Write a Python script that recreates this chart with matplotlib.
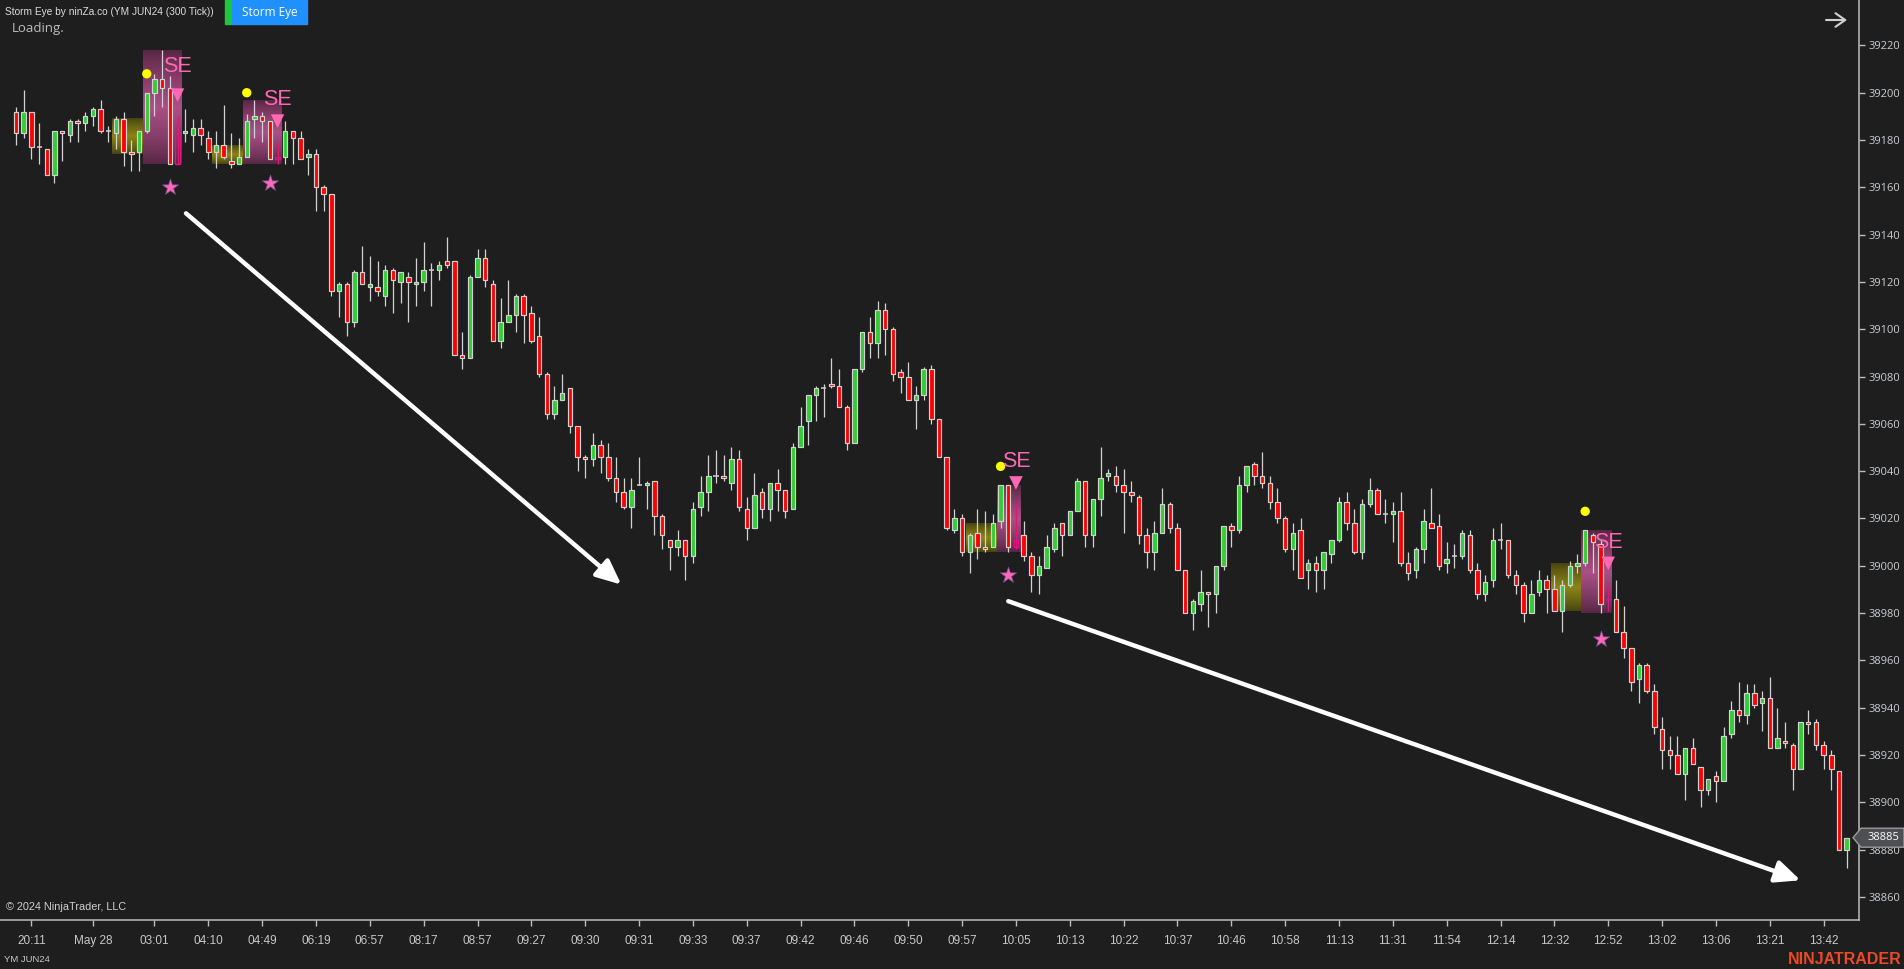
import numpy as np
import matplotlib
matplotlib.use("Agg")
import matplotlib.pyplot as plt
from matplotlib import font_manager
from matplotlib.patches import Polygon, Rectangle

# YM JUN24, 300 tick bars
OPEN = [
    39192, 39183, 39192, 39177, 39176, 39165, 39184, 39182, 39188, 39187,
    39190, 39193, 39184, 39183, 39189, 39175, 39175, 39184, 39200, 39206,
    39202, 39170, 39183, 39182, 39185, 39181, 39175, 39178, 39171, 39170,
    39173, 39189, 39190, 39188, 39172, 39173, 39184, 39181, 39173, 39174,
    39160, 39157, 39116, 39119, 39103, 39124, 39118, 39118, 39114, 39125,
    39120, 39122, 39119, 39120, 39125, 39125, 39129, 39129, 39089, 39088,
    39122, 39130, 39119, 39095, 39103, 39106, 39114, 39107, 39097, 39081,
    39064, 39070, 39075, 39059, 39046, 39045, 39051, 39046, 39037, 39031,
    39025, 39034, 39034, 39036, 39021, 39011, 39008, 39011, 39004, 39025,
    39031, 39038, 39038, 39035, 39045, 39024, 39016, 39031, 39024, 39035,
    39032, 39024, 39050, 39061, 39072, 39075, 39077, 39076, 39067, 39052,
    39083, 39099, 39094, 39108, 39100, 39082, 39080, 39070, 39072, 39083,
    39062, 39046, 39015, 39020, 39006, 39014, 39008, 39008, 39019, 39034,
    39008, 39013, 39004, 38996, 38999, 39007, 39018, 39013, 39023, 39036,
    39013, 39028, 39038, 39038, 39034, 39031, 39029, 39013, 39006, 39014,
    39026, 39016, 38998, 38980, 38984, 38989, 38988, 39000, 39017, 39015,
    39034, 39043, 39038, 39035, 39027, 39020, 39007, 39015, 38998, 39001,
    38998, 39005, 39011, 39027, 39018, 39006, 39026, 39032, 39022, 39022,
    39023, 39001, 38998, 39007, 39018, 39017, 39001, 39004, 39004, 39013,
    38998, 38988, 38994, 39011, 39011, 38996, 38992, 38980, 38989, 38994,
    38990, 38981, 38992, 39000, 39001, 39013, 39009, 38986, 38986, 38972,
    38965, 38952, 38958, 38947, 38931, 38922, 38920, 38912, 38923, 38915,
    38905, 38911, 38909, 38929, 38939, 38937, 38946, 38942, 38944, 38923,
    38926, 38924, 38914, 38934, 38934, 38924, 38920, 38913, 38880,
]
HIGH = [
    39194, 39201, 39192, 39187, 39176, 39184, 39184, 39189, 39189, 39192,
    39194, 39197, 39186, 39190, 39192, 39180, 39184, 39200, 39208, 39218,
    39207, 39190, 39193, 39189, 39189, 39184, 39184, 39195, 39183, 39181,
    39191, 39197, 39192, 39188, 39179, 39188, 39184, 39184, 39176, 39176,
    39161, 39157, 39120, 39120, 39125, 39135, 39131, 39129, 39127, 39126,
    39124, 39124, 39130, 39137, 39128, 39129, 39139, 39129, 39099, 39123,
    39134, 39134, 39121, 39113, 39121, 39115, 39115, 39110, 39105, 39082,
    39076, 39081, 39075, 39059, 39047, 39056, 39053, 39052, 39046, 39037,
    39037, 39046, 39036, 39036, 39022, 39011, 39015, 39011, 39027, 39038,
    39047, 39049, 39047, 39050, 39049, 39029, 39039, 39033, 39035, 39041,
    39032, 39052, 39067, 39072, 39076, 39077, 39088, 39083, 39068, 39083,
    39099, 39105, 39112, 39111, 39101, 39083, 39086, 39076, 39084, 39085,
    39062, 39046, 39024, 39022, 39014, 39024, 39023, 39022, 39034, 39034,
    39026, 39019, 39006, 39004, 39013, 39018, 39018, 39023, 39037, 39036,
    39028, 39050, 39041, 39042, 39041, 39036, 39030, 39016, 39019, 39033,
    39027, 39018, 38998, 38986, 38998, 38989, 39000, 39017, 39018, 39038,
    39042, 39044, 39048, 39038, 39033, 39021, 39018, 39020, 39003, 39004,
    39006, 39011, 39029, 39031, 39024, 39028, 39037, 39033, 39028, 39027,
    39031, 39006, 39008, 39024, 39033, 39022, 39010, 39009, 39015, 39015,
    39001, 38996, 39016, 39018, 39011, 38998, 38993, 38994, 38998, 38996,
    38996, 38994, 39002, 39005, 39015, 39014, 39011, 38992, 38994, 38983,
    38965, 38959, 38959, 38950, 38936, 38928, 38928, 38923, 38927, 38915,
    38910, 38913, 38932, 38943, 38951, 38950, 38950, 38947, 38953, 38940,
    38934, 38925, 38934, 38939, 38935, 38926, 38922, 38913, 38885,
]
LOW = [
    39178, 39181, 39172, 39170, 39165, 39162, 39171, 39179, 39179, 39184,
    39186, 39183, 39179, 39176, 39169, 39167, 39167, 39183, 39190, 39194,
    39170, 39170, 39179, 39175, 39178, 39172, 39168, 39172, 39168, 39170,
    39173, 39181, 39179, 39172, 39170, 39170, 39170, 39172, 39165, 39150,
    39150, 39114, 39105, 39097, 39101, 39119, 39112, 39114, 39110, 39107,
    39111, 39103, 39110, 39116, 39110, 39121, 39126, 39089, 39083, 39088,
    39122, 39118, 39095, 39092, 39103, 39099, 39094, 39094, 39080, 39062,
    39062, 39070, 39056, 39040, 39037, 39042, 39039, 39036, 39027, 39024,
    39016, 39034, 39024, 39013, 39007, 38998, 39004, 38994, 39001, 39021,
    39023, 39035, 39036, 39032, 39023, 39011, 39016, 39020, 39019, 39023,
    39020, 39024, 39050, 39051, 39061, 39063, 39075, 39067, 39049, 39052,
    39082, 39088, 39088, 39089, 39078, 39073, 39070, 39058, 39070, 39060,
    39046, 39015, 39014, 39004, 38997, 39003, 39006, 39008, 39016, 39006,
    39007, 39002, 38989, 38988, 38999, 39006, 39004, 39013, 39023, 39008,
    39008, 39021, 39036, 39031, 39014, 39027, 39009, 38999, 38998, 39014,
    39014, 38998, 38980, 38973, 38981, 38974, 38980, 38998, 39008, 39014,
    39031, 39034, 39033, 39024, 39018, 39006, 38998, 38995, 38990, 38989,
    38990, 39001, 39010, 39015, 39005, 39003, 39025, 39022, 39018, 39010,
    39000, 38994, 38995, 39001, 39016, 38998, 38997, 38999, 39003, 38997,
    38986, 38985, 38991, 39007, 38995, 38988, 38976, 38980, 38987, 38980,
    38981, 38972, 38991, 38997, 39000, 38997, 38980, 38981, 38972, 38961,
    38947, 38942, 38946, 38929, 38914, 38914, 38912, 38901, 38916, 38898,
    38903, 38900, 38909, 38927, 38934, 38933, 38940, 38930, 38923, 38923,
    38923, 38905, 38914, 38929, 38922, 38914, 38905, 38880, 38872,
]
CLOSE = [
    39183, 39192, 39177, 39177, 39165, 39184, 39183, 39188, 39187, 39190,
    39193, 39184, 39184, 39189, 39175, 39174, 39184, 39200, 39206, 39202,
    39170, 39183, 39184, 39185, 39182, 39175, 39178, 39173, 39170, 39173,
    39188, 39190, 39188, 39172, 39173, 39184, 39181, 39172, 39174, 39160,
    39157, 39116, 39119, 39103, 39124, 39119, 39119, 39116, 39125, 39121,
    39124, 39120, 39120, 39125, 39125, 39127, 39127, 39089, 39088, 39122,
    39130, 39121, 39095, 39103, 39106, 39114, 39106, 39095, 39081, 39064,
    39070, 39073, 39059, 39046, 39045, 39051, 39046, 39037, 39031, 39025,
    39032, 39034, 39035, 39021, 39013, 39008, 39011, 39004, 39024, 39031,
    39038, 39038, 39037, 39045, 39025, 39016, 39030, 39024, 39035, 39032,
    39023, 39050, 39059, 39072, 39075, 39075, 39076, 39067, 39052, 39083,
    39099, 39094, 39108, 39100, 39081, 39080, 39070, 39072, 39083, 39062,
    39046, 39016, 39020, 39006, 39013, 39008, 39007, 39018, 39034, 39008,
    39011, 39004, 38996, 39000, 39008, 39016, 39013, 39023, 39036, 39013,
    39028, 39037, 39039, 39034, 39031, 39030, 39013, 39006, 39014, 39026,
    39016, 38998, 38980, 38985, 38989, 38988, 39000, 39017, 39015, 39034,
    39042, 39038, 39035, 39027, 39020, 39007, 39014, 38995, 39001, 38998,
    39006, 39011, 39027, 39018, 39006, 39026, 39032, 39022, 39022, 39023,
    39001, 38997, 39007, 39019, 39016, 39000, 39003, 39004, 39014, 38998,
    38988, 38993, 39011, 39011, 38996, 38992, 38980, 38988, 38994, 38990,
    38981, 38992, 39000, 39001, 39015, 39010, 38984, 38986, 38972, 38965,
    38951, 38958, 38947, 38932, 38922, 38920, 38912, 38923, 38916, 38905,
    38910, 38909, 38928, 38939, 38937, 38946, 38941, 38944, 38923, 38927,
    38925, 38914, 38934, 38933, 38924, 38920, 38914, 38880, 38885,
]

TIME_TICKS = [2, 10, 18, 25, 32, 39, 46, 53, 60, 67, 74, 81, 88, 95, 102, 109, 116,
              123, 130, 137, 144, 151, 158, 165, 172, 179, 186, 193, 200, 207, 214,
              221, 228, 235]
TIME_LABELS = ["20:11", "May 28", "03:01", "04:10", "04:49", "06:19", "06:57", "08:17",
               "08:57", "09:27", "09:30", "09:31", "09:33", "09:37", "09:42", "09:46",
               "09:50", "09:57", "10:05", "10:13", "10:22", "10:37", "10:46", "10:58",
               "11:13", "11:31", "11:54", "12:14", "12:32", "12:52", "13:02", "13:06",
               "13:21", "13:42"]
PRICE_TICKS = list(range(38860, 39221, 20))

# Storm Eye indicator: squeeze zones (olive), signal zones (pink), SE signals
OLIVE_ZONES = [(13, 16), (26, 29), (124, 127), (200, 203)]
PINK_ZONES = [(17, 21), (30, 34), (128, 130), (204, 207)]
DOT_X = [17, 30, 128, 204]
DOT_Y = [39208, 39200, 39042, 39023]
SE_X = [21, 34, 130, 207]
SE_Y = [39211, 39197, 39044, 39010]
TRI_Y = [39199, 39188, 39035, 39001]
STAR_X = [20, 33, 129, 206]
STAR_Y = [39160, 39162, 38996, 38969]

# hand-drawn trend arrows (bar index, price)
ARROWS = [((22.1, 39149), (78.7, 38992)), ((129.0, 38985), (232.0, 38867))]

BG = "#1e1e1e"
FG = "#c8c8c8"
WICK = "#d2d2d2"
UP, DOWN, HOT = "#32cd32", "#ff0000", "#ff69b4"
SIGNAL = "#e0157f"


def pick(names):
    for n in names:
        try:
            font_manager.findfont(font_manager.FontProperties(family=n), fallback_to_default=False)
            return n
        except Exception:
            pass
    return "DejaVu Sans"


NARROW = pick(["Liberation Sans Narrow", "Liberation Sans"])
SANS = pick(["Open Sans", "DejaVu Sans"])
ARIAL = pick(["Liberation Sans", "DejaVu Sans"])


def gradient_box(ax, x0, x1, y0, y1, edge, mid):
    t = np.linspace(0, 1, 80)
    w = (1 - np.abs(2 * t - 1)) ** 0.8
    e = np.array(edge) / 255
    m = np.array(mid) / 255
    rgb = e[None, :] * (1 - w[:, None]) + m[None, :] * w[:, None]
    ax.imshow(rgb[:, None, :], extent=(x0, x1, y0, y1), aspect="auto",
              origin="lower", interpolation="bilinear", zorder=1)


W, H = 1904, 969
fig = plt.figure(figsize=(W / 100, H / 100), dpi=100, facecolor=BG)
ax = fig.add_axes([0, 49 / H, 1859 / W, 1 - 49 / H])
ax.set_facecolor(BG)

o, h, l, c = (np.array(a, dtype=float) for a in (OPEN, HIGH, LOW, CLOSE))
idx = np.arange(len(o))
sig = np.zeros(len(o), bool)
sig[[z[1] for z in PINK_ZONES]] = True

# zones behind the bars
for a, b in OLIVE_ZONES:
    bod_hi = np.maximum(o[a:b + 1], c[a:b + 1]).max()
    bod_lo = np.minimum(o[a:b + 1], c[a:b + 1]).min()
    gradient_box(ax, a - 0.5, b + 0.5, bod_lo, bod_hi, (70, 66, 16), (138, 132, 22))
for a, b in PINK_ZONES:
    gradient_box(ax, a - 0.5, b + 0.5, l[a:b + 1].min(), h[a:b + 1].max(),
                 (86, 38, 66), (170, 80, 134))

# candles
bw = 0.58
norm = ~sig
ax.vlines(idx[norm], l[norm], h[norm], color=WICK, lw=0.9, zorder=3)
upm = norm & (c > o)
dnm = norm & (c < o)
flat = norm & (c == o)
ax.bar(idx[upm], c[upm] - o[upm], bottom=o[upm], width=bw, color=UP,
       edgecolor=WICK, linewidth=0.85, zorder=4)
ax.bar(idx[dnm], o[dnm] - c[dnm], bottom=c[dnm], width=bw, color=DOWN,
       edgecolor=WICK, linewidth=0.85, zorder=4)
ax.hlines(o[flat], idx[flat] - 0.33, idx[flat] + 0.33, color=WICK, lw=1.1, zorder=4)

# signal bars drawn hollow in pink
ax.vlines(idx[sig], l[sig], h[sig], color=SIGNAL, lw=0.9, zorder=3)
lo_b = np.minimum(o[sig], c[sig])
hi_b = np.maximum(o[sig], c[sig])
ax.bar(idx[sig], np.maximum(hi_b - lo_b, 0.01), bottom=lo_b, width=bw,
       facecolor="none", edgecolor=SIGNAL, linewidth=0.9, zorder=4)
ax.hlines(lo_b, idx[sig] - 0.3, idx[sig] + 0.3, color=SIGNAL, lw=0.9, zorder=4)

# markers
ax.scatter(DOT_X, DOT_Y, s=45, color="#ffff00", edgecolor="none", zorder=6)
ax.scatter(SE_X, TRI_Y, marker="v", s=95, color=HOT, edgecolor="none", zorder=6)
ax.scatter(STAR_X, STAR_Y, marker="*", s=150, color=HOT, edgecolor="#7d4aa0",
           linewidth=0.5, zorder=6)
for x, y in zip(SE_X, SE_Y):
    ax.text(x, y, "SE", color=HOT, fontsize=15.5, family=ARIAL,
            ha="center", va="center", zorder=7)

for (x0, y0), (x1, y1) in ARROWS:
    ax.annotate("", xy=(x1, y1), xytext=(x0, y0), zorder=8,
                arrowprops=dict(arrowstyle="-|>,head_length=1.0,head_width=0.45",
                                color="white", lw=3.2, mutation_scale=15,
                                shrinkA=0, shrinkB=0))

# axes
ax.set_xlim(-2.08, 239.6)
ax.set_ylim(38850.2, 39239.2)
for s in ("top", "left"):
    ax.spines[s].set_visible(False)
for s in ("right", "bottom"):
    ax.spines[s].set_color("#bdbdbd")
    ax.spines[s].set_linewidth(1.1)
ax.yaxis.tick_right()
ax.set_yticks(PRICE_TICKS)
ax.set_yticklabels([str(p) for p in PRICE_TICKS], family=SANS, fontsize=8, color="#c8ccd2")
ax.tick_params(axis="y", length=4, width=1, color="#bdbdbd", pad=3)
ax.set_xticks(TIME_TICKS)
ax.set_xticklabels(TIME_LABELS, family=NARROW, fontsize=8.5, color=FG)
ax.tick_params(axis="x", length=4, width=1, color="#bdbdbd", pad=7)

# overlay in pixel coordinates for chrome
ov = fig.add_axes([0, 0, 1, 1], zorder=10)
ov.set_xlim(0, W)
ov.set_ylim(H, 0)
ov.axis("off")
ov.patch.set_alpha(0)

ov.text(5, 12, "Storm Eye by ninZa.co (YM JUN24 (300 Tick))", family=NARROW,
        fontsize=7.3, color="#dcdcdc", va="center", ha="left")
ov.add_patch(Rectangle((225, 0), 6, 24, color="#22c53c"))
ov.add_patch(Rectangle((232, 0), 75, 24, color="#1e90ff"))
ov.text(269.5, 12.5, "Storm Eye", family=SANS, fontsize=8.5, color="white",
        ha="center", va="center")
ov.text(12, 28, "Loading.", family=SANS, fontsize=9.5, color="#bdbdbd",
        ha="left", va="center")
ov.annotate("", xy=(1847, 20), xytext=(1826, 20),
            arrowprops=dict(arrowstyle="->,head_length=0.5,head_width=0.35",
                            color="#d0d0d0", lw=1.5, mutation_scale=14,
                            shrinkA=0, shrinkB=0))
ov.text(6, 907, "\u00a9 2024 NinjaTrader, LLC", family=NARROW, fontsize=7.8,
        color="#d0d0d0", ha="left", va="center")
ov.text(4, 960, "YM JUN24", family=NARROW, fontsize=6.8, color=FG, ha="left", va="center")
ov.text(1902, 959, "NINJATRADER", family=NARROW, fontsize=11.5, weight="bold",
        color="#ec4a26", ha="right", va="center")

# last price marker
yp = H - ax.transData.transform((0, CLOSE[-1]))[1]
ov.add_patch(Polygon([(1853, yp), (1861, yp - 9.5), (1904, yp - 9.5),
                      (1904, yp + 9.5), (1861, yp + 9.5)], closed=True,
                     facecolor="#4d4f53", edgecolor="#9a9a9a", lw=1))
ov.text(1868, yp, str(CLOSE[-1]), family=SANS, fontsize=8, color="white",
        ha="left", va="center")

fig.savefig("out.png", dpi=100, facecolor=BG)
